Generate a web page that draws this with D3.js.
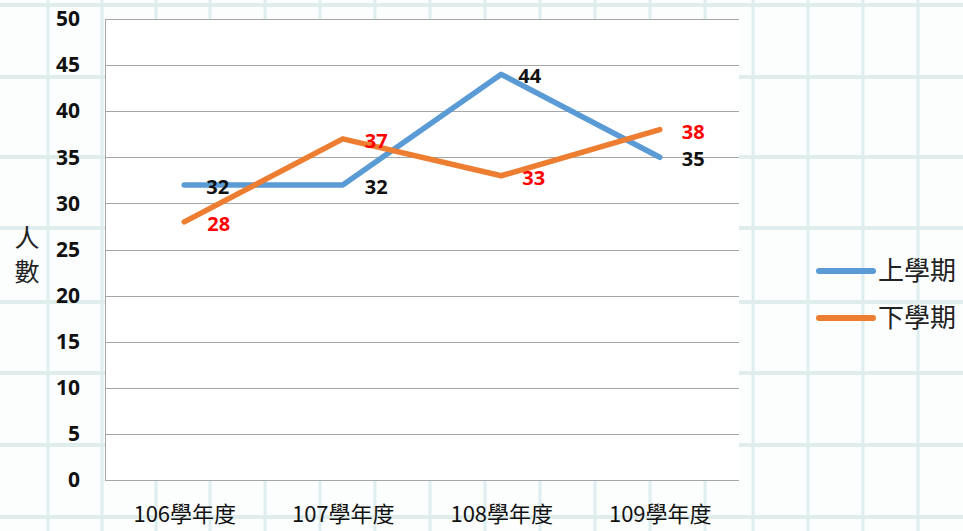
<!DOCTYPE html>
<html>
<head>
<meta charset="utf-8">
<script src="https://cdn.jsdelivr.net/npm/d3@7"></script>
<style>
  body { margin: 0; background: #fcfefe; }
  svg { display: block; }
</style>
</head>
<body>
<div id="wrapper"></div>
<script>
// data
const categories = ["106學年度", "107學年度", "108學年度", "109學年度"]
const seriesNames = ["上學期", "下學期"]
const firstTerm = [32, 32, 44, 35]
const secondTerm = [28, 37, 33, 38]
const yTicks = [0, 5, 10, 15, 20, 25, 30, 35, 40, 45, 50]
const paperCols = [48, 102, 156, 210, 265, 320, 375, 430, 485, 540, 595, 650, 705, 753, 808, 863, 918]
const paperRows = [5, 77, 157, 228, 302, 373, 445, 517]

function drawChart() {
  const dimensions = {
    width: 963,
    height: 531,
    margin: { top: 19, right: 224, bottom: 51, left: 105 }
  }
  dimensions.boundedWidth = dimensions.width - dimensions.margin.left - dimensions.margin.right
  dimensions.boundedHeight = dimensions.height - dimensions.margin.top - dimensions.margin.bottom

  const wrapper = d3.select("#wrapper")
    .append("svg")
      .attr("width", dimensions.width)
      .attr("height", dimensions.height)

  // grid paper background
  const paper = wrapper.append("g")
  paper.selectAll(".pcol").data(paperCols).enter().append("line")
    .attr("x1", d => d).attr("x2", d => d)
    .attr("y1", 0).attr("y2", dimensions.height)
    .attr("stroke", "#deedef").attr("stroke-width", 3)
  paper.selectAll(".prow").data(paperRows).enter().append("line")
    .attr("x1", 0).attr("x2", dimensions.width)
    .attr("y1", d => d).attr("y2", d => d)
    .attr("stroke", "#e0eded").attr("stroke-width", 4)

  const bounds = wrapper.append("g")
    .attr("transform", `translate(${dimensions.margin.left},${dimensions.margin.top})`)

  // scales
  const xScale = d3.scalePoint()
    .domain(categories)
    .range([0, dimensions.boundedWidth])
    .padding(0.5)

  const yScale = d3.scaleLinear()
    .domain([0, 50])
    .range([dimensions.boundedHeight, 0])

  // plot area
  bounds.append("rect")
    .attr("width", dimensions.boundedWidth)
    .attr("height", dimensions.boundedHeight)
    .attr("fill", "#ffffff")

  bounds.selectAll(".grid").data(yTicks).enter().append("line")
    .attr("x1", 0).attr("x2", dimensions.boundedWidth)
    .attr("y1", d => Math.round(yScale(d)) + 0.5)
    .attr("y2", d => Math.round(yScale(d)) + 0.5)
    .attr("stroke", "#a6a6a6").attr("stroke-width", 1)

  bounds.append("line")
    .attr("x1", 0.5).attr("x2", 0.5)
    .attr("y1", 0).attr("y2", dimensions.boundedHeight)
    .attr("stroke", "#a6a6a6")

  // y axis
  const yAxis = bounds.append("g")
    .call(d3.axisLeft(yScale).tickValues(yTicks).tickSize(0).tickPadding(25))
  yAxis.select(".domain").remove()
  yAxis.selectAll("text")
    .attr("font-family", "'Open Sans', 'DejaVu Sans', sans-serif")
    .attr("font-weight", "bold")
    .attr("font-size", 21)
    .attr("fill", "#111")

  // x axis
  const xAxis = bounds.append("g")
    .attr("transform", `translate(0,${dimensions.boundedHeight})`)
    .call(d3.axisBottom(xScale).tickSize(0).tickPadding(26))
  xAxis.select(".domain").remove()
  xAxis.selectAll("text")
    .attr("font-family", "'Noto Sans CJK TC', sans-serif")
    .attr("font-size", 22)
    .attr("fill", "#111")

  // y label
  const yLabel = wrapper.append("text")
    .attr("font-family", "'Noto Sans CJK TC', sans-serif")
    .attr("font-size", 25)
    .attr("fill", "#222")
    .attr("text-anchor", "middle")
  yLabel.append("tspan").attr("x", 27).attr("y", 247).text("人")
  yLabel.append("tspan").attr("x", 27).attr("y", 281).text("數")

  // lines
  const colors = ["#5b9bd5", "#ed7d31"]
  const series = [firstTerm, secondTerm]
  const lineGenerator = d3.line()
    .x((d, i) => xScale(categories[i]))
    .y(d => yScale(d))

  series.forEach((values, s) => {
    bounds.append("path")
      .datum(values)
      .attr("d", lineGenerator)
      .attr("fill", "none")
      .attr("stroke", colors[s])
      .attr("stroke-width", 5.5)
      .attr("stroke-linejoin", "round")
      .attr("stroke-linecap", "round")
  })

  // data labels
  const labelDx = [[22, 22, 17, 22], [23, 22, 21, 22]]
  const labelColors = ["#111111", "#ff0000"]
  series.forEach((values, s) => {
    bounds.selectAll(`.label-${s}`).data(values).enter().append("text")
      .attr("x", (d, i) => xScale(categories[i]) + labelDx[s][i])
      .attr("y", d => yScale(d) + 2)
      .attr("dy", "0.35em")
      .attr("font-family", "'Open Sans', 'DejaVu Sans', sans-serif")
      .attr("font-weight", "bold")
      .attr("font-size", 20)
      .attr("fill", labelColors[s])
      .text(d => d)
  })

  // legend
  const legend = wrapper.append("g")
  seriesNames.forEach((name, s) => {
    const ly = 271 + s * 47
    legend.append("line")
      .attr("x1", 819).attr("x2", 873)
      .attr("y1", ly).attr("y2", ly)
      .attr("stroke", colors[s])
      .attr("stroke-width", 6)
      .attr("stroke-linecap", "round")
    legend.append("text")
      .attr("x", 878).attr("y", ly)
      .attr("dy", "0.36em")
      .attr("font-family", "'Noto Sans CJK TC', sans-serif")
      .attr("font-size", 26)
      .attr("fill", "#222")
      .text(name)
  })
}

drawChart()
</script>
</body>
</html>
